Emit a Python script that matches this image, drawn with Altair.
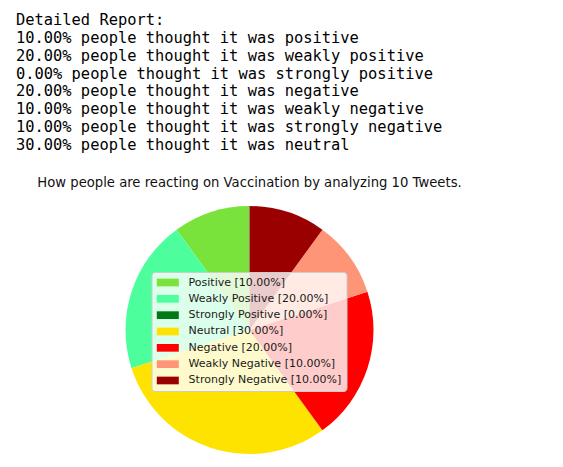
import altair as alt
import pandas as pd

categories = ["Positive", "Weakly Positive", "Strongly Positive", "Neutral",
              "Negative", "Weakly Negative", "Strongly Negative"]
percents = [10.0, 20.0, 0.0, 30.0, 20.0, 10.0, 10.0]
colors = ["#79e23b", "#4cff9c", "#007a14", "#ffe300", "#ff0000", "#ff9577", "#9a0000"]

report_lines = [
    "Detailed Report:",
    "10.00% people thought it was positive",
    "20.00% people thought it was weakly positive",
    "0.00% people thought it was strongly positive",
    "20.00% people thought it was negative",
    "10.00% people thought it was weakly negative",
    "10.00% people thought it was strongly negative",
    "30.00% people thought it was neutral",
]
title_text = "How people are reacting on Vaccination by analyzing 10 Tweets."

labels = [f"{c} [{p:.2f}%]" for c, p in zip(categories, percents)]
pie_df = pd.DataFrame({"label": labels, "pct": percents, "idx": list(range(len(labels)))})
report_df = pd.DataFrame({"line": report_lines, "row": list(range(len(report_lines)))})
title_df = pd.DataFrame({"t": [title_text]})

report = alt.Chart(report_df).mark_text(
    font="DejaVu Sans Mono", fontSize=15.4, align="left", baseline="middle", color="#000000"
).encode(
    text="line:N",
    x=alt.value(16),
    y=alt.Y("row:Q", scale=alt.Scale(domain=[0, 7], range=[20, 145]), axis=None),
)

title = alt.Chart(title_df).mark_text(
    font="DejaVu Sans", fontSize=13.2, align="center", baseline="middle", color="#111111"
).encode(text="t:N", x=alt.value(249.5), y=alt.value(183.3))

pie = alt.Chart(pie_df).mark_arc(radius=124).encode(
    theta=alt.Theta("pct:Q", stack=True),
    order=alt.Order("idx:Q", sort="descending"),
    color=alt.Color(
        "label:N",
        scale=alt.Scale(domain=labels, range=colors),
        legend=alt.Legend(
            title=None, orient="none", legendX=151.5, legendY=272, direction="vertical",
            symbolType="M-2.2,-0.77H2.2V0.77H-2.2Z", symbolSize=100, symbolStrokeWidth=0,
            symbolOffset=5.8, labelOffset=15.3, symbolOpacity=1,
            labelFont="DejaVu Sans", labelFontSize=11, labelColor="#1a1a1a",
            rowPadding=4.33, padding=5, labelLimit=400,
            fillColor="rgba(255,255,255,0.8)", strokeColor="#cccccc", cornerRadius=3,
        ),
    ),
    x=alt.value(249.5),
    y=alt.value(330),
)

chart = alt.layer(report, title, pie).properties(
    width=563, height=467, autosize=alt.AutoSizeParams(type="none"), padding=0
).configure_view(strokeWidth=0)

chart.save("out.html", embed_options={"renderer": "svg", "actions": False})
